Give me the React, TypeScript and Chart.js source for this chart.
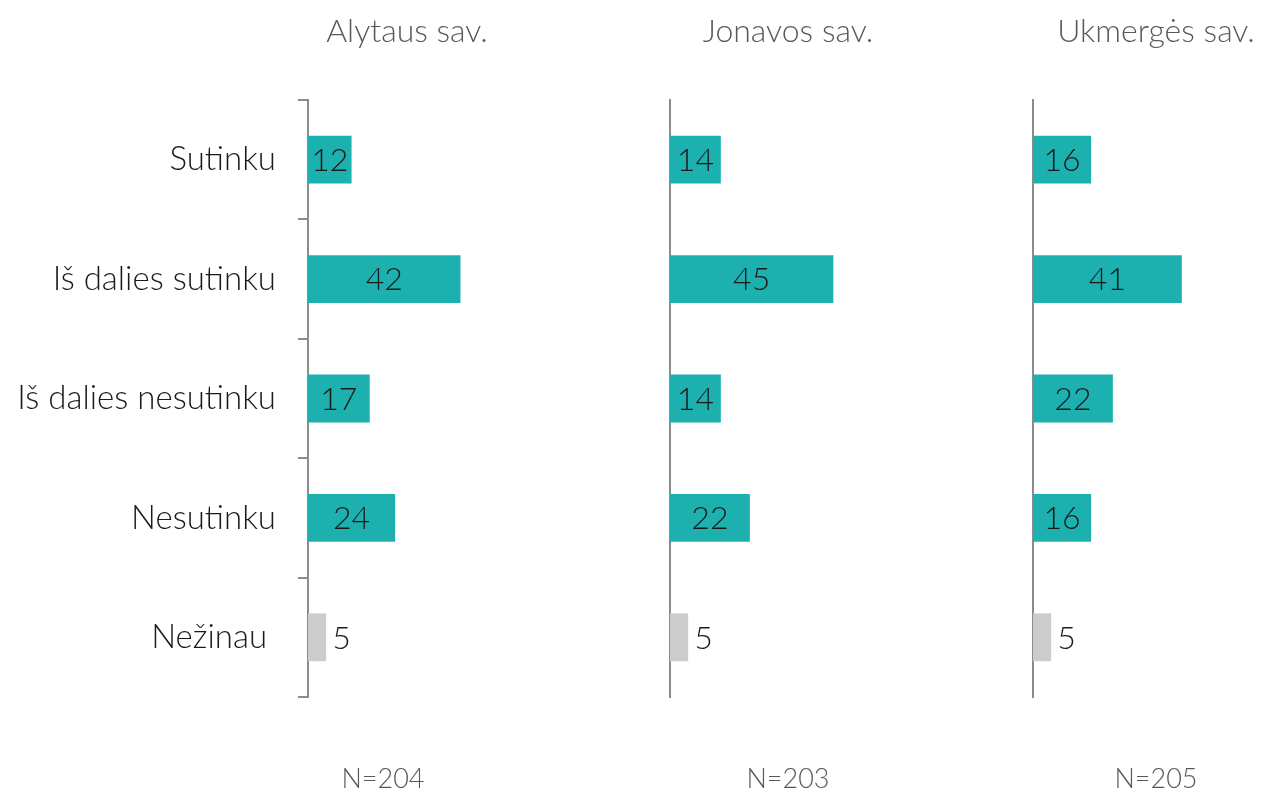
import React, { useEffect, useRef } from "react";
import { Chart, registerables } from "chart.js";

Chart.register(...registerables);

const categories = ["Sutinku", "Iš dalies sutinku", "Iš dalies nesutinku", "Nesutinku", "Nežinau"];
const regions = ["Alytaus sav.", "Jonavos sav.", "Ukmergės sav."];
const sampleSizes = ["N=204", "N=203", "N=205"];
const alytausValues = [12, 42, 17, 24, 5];
const jonavosValues = [14, 45, 14, 22, 5];
const ukmergesValues = [16, 41, 22, 16, 5];

const TEAL = "#1CB1AE";
const GREY_BAR = "#CCCCCC";
const AXIS = "#8C8C8C";
const TEXT = "#1A1A1A";
const MUTED = "#595959";
const FONT = "Lato, 'Open Sans', sans-serif";

const PX_PER_UNIT = 3.63;
const PLOT_W = 362;
const PLOT_TOP = 100;
const PLOT_BOTTOM = 697;
const H = 793;

const valueLabels = {
  id: "valueLabels",
  afterDatasetsDraw(chart: any) {
    const ctx = chart.ctx;
    const meta = chart.getDatasetMeta(0);
    const data = chart.data.datasets[0].data as number[];
    ctx.save();
    ctx.font = `300 32px ${FONT}`;
    ctx.fillStyle = TEXT;
    ctx.textBaseline = "middle";
    meta.data.forEach((bar: any, i: number) => {
      const txt = String(data[i]);
      const tw = ctx.measureText(txt).width;
      const w = Math.abs(bar.x - bar.base);
      if (w >= tw + 6) {
        ctx.textAlign = "center";
        ctx.fillText(txt, (bar.x + bar.base) / 2, bar.y + 1);
      } else {
        ctx.textAlign = "left";
        ctx.fillText(txt, bar.x + 6, bar.y + 1);
      }
    });
    ctx.restore();
  },
};

function Panel({ values, axisX, showTicks }: { values: number[]; axisX: number; showTicks: boolean }) {
  const ref = useRef<HTMLCanvasElement | null>(null);
  const yWidth = showTicks ? axisX : 20;
  const left = axisX - yWidth;
  const width = yWidth + PLOT_W;

  useEffect(() => {
    if (!ref.current) return;
    const chart = new Chart(ref.current, {
      type: "bar",
      data: {
        labels: categories,
        datasets: [
          {
            data: values,
            backgroundColor: values.map((_, i) => (i === categories.length - 1 ? GREY_BAR : TEAL)),
            borderWidth: 0,
            barPercentage: 0.4,
            categoryPercentage: 1,
          },
        ],
      },
      options: {
        indexAxis: "y",
        responsive: false,
        maintainAspectRatio: false,
        animation: false,
        layout: { padding: { top: PLOT_TOP, bottom: H - PLOT_BOTTOM, left: 0, right: 0 } },
        plugins: {
          legend: { display: false },
          tooltip: { enabled: false },
          title: { display: false },
        },
        scales: {
          x: { display: false, min: 0, max: PLOT_W / PX_PER_UNIT },
          y: {
            afterFit: (s: any) => {
              s.width = yWidth;
            },
            grid: {
              display: showTicks,
              drawOnChartArea: false,
              drawTicks: true,
              tickLength: 10,
              color: AXIS,
              lineWidth: 2,
              offset: true,
            },
            border: { display: true, color: AXIS, width: 2 },
            ticks: {
              display: showTicks,
              padding: 22,
              color: TEXT,
              font: { family: FONT, size: 33, weight: "300" as any },
              callback: (v: any, i: number) => (i === categories.length - 1 ? categories[i] + " " : categories[i]),
            },
          },
        },
      },
      plugins: [valueLabels],
    });
    return () => chart.destroy();
  }, []);

  return (
    <canvas
      ref={ref}
      width={width}
      height={H}
      style={{ position: "absolute", left, top: 0, width, height: H }}
    />
  );
}

const axisXs = [308, 670, 1033];
const titleXs = [407, 788, 1156];
const nXs = [383, 788, 1156];
const panelValues = [alytausValues, jonavosValues, ukmergesValues];

export default function App() {
  const textStyle = (x: number, top: number, size: number): React.CSSProperties => ({
    position: "absolute",
    left: x,
    top,
    transform: "translateX(-50%)",
    fontFamily: FONT,
    fontWeight: 300,
    fontSize: size,
    lineHeight: `${size}px`,
    color: MUTED,
    whiteSpace: "nowrap",
  });
  return (
    <div
      style={{
        position: "fixed",
        left: 0,
        top: 0,
        width: 1266,
        height: 793,
        overflow: "hidden",
        background: "#fff",
      }}
    >
      {panelValues.map((v, i) => (
        <Panel key={i} values={v} axisX={axisXs[i]} showTicks={i === 0} />
      ))}
      {regions.map((r, i) => (
        <div key={"t" + i} style={textStyle(titleXs[i], 14, 32)}>
          {r}
        </div>
      ))}
      {sampleSizes.map((n, i) => (
        <div key={"n" + i} style={textStyle(nXs[i], 764, 27)}>
          {n}
        </div>
      ))}
    </div>
  );
}
